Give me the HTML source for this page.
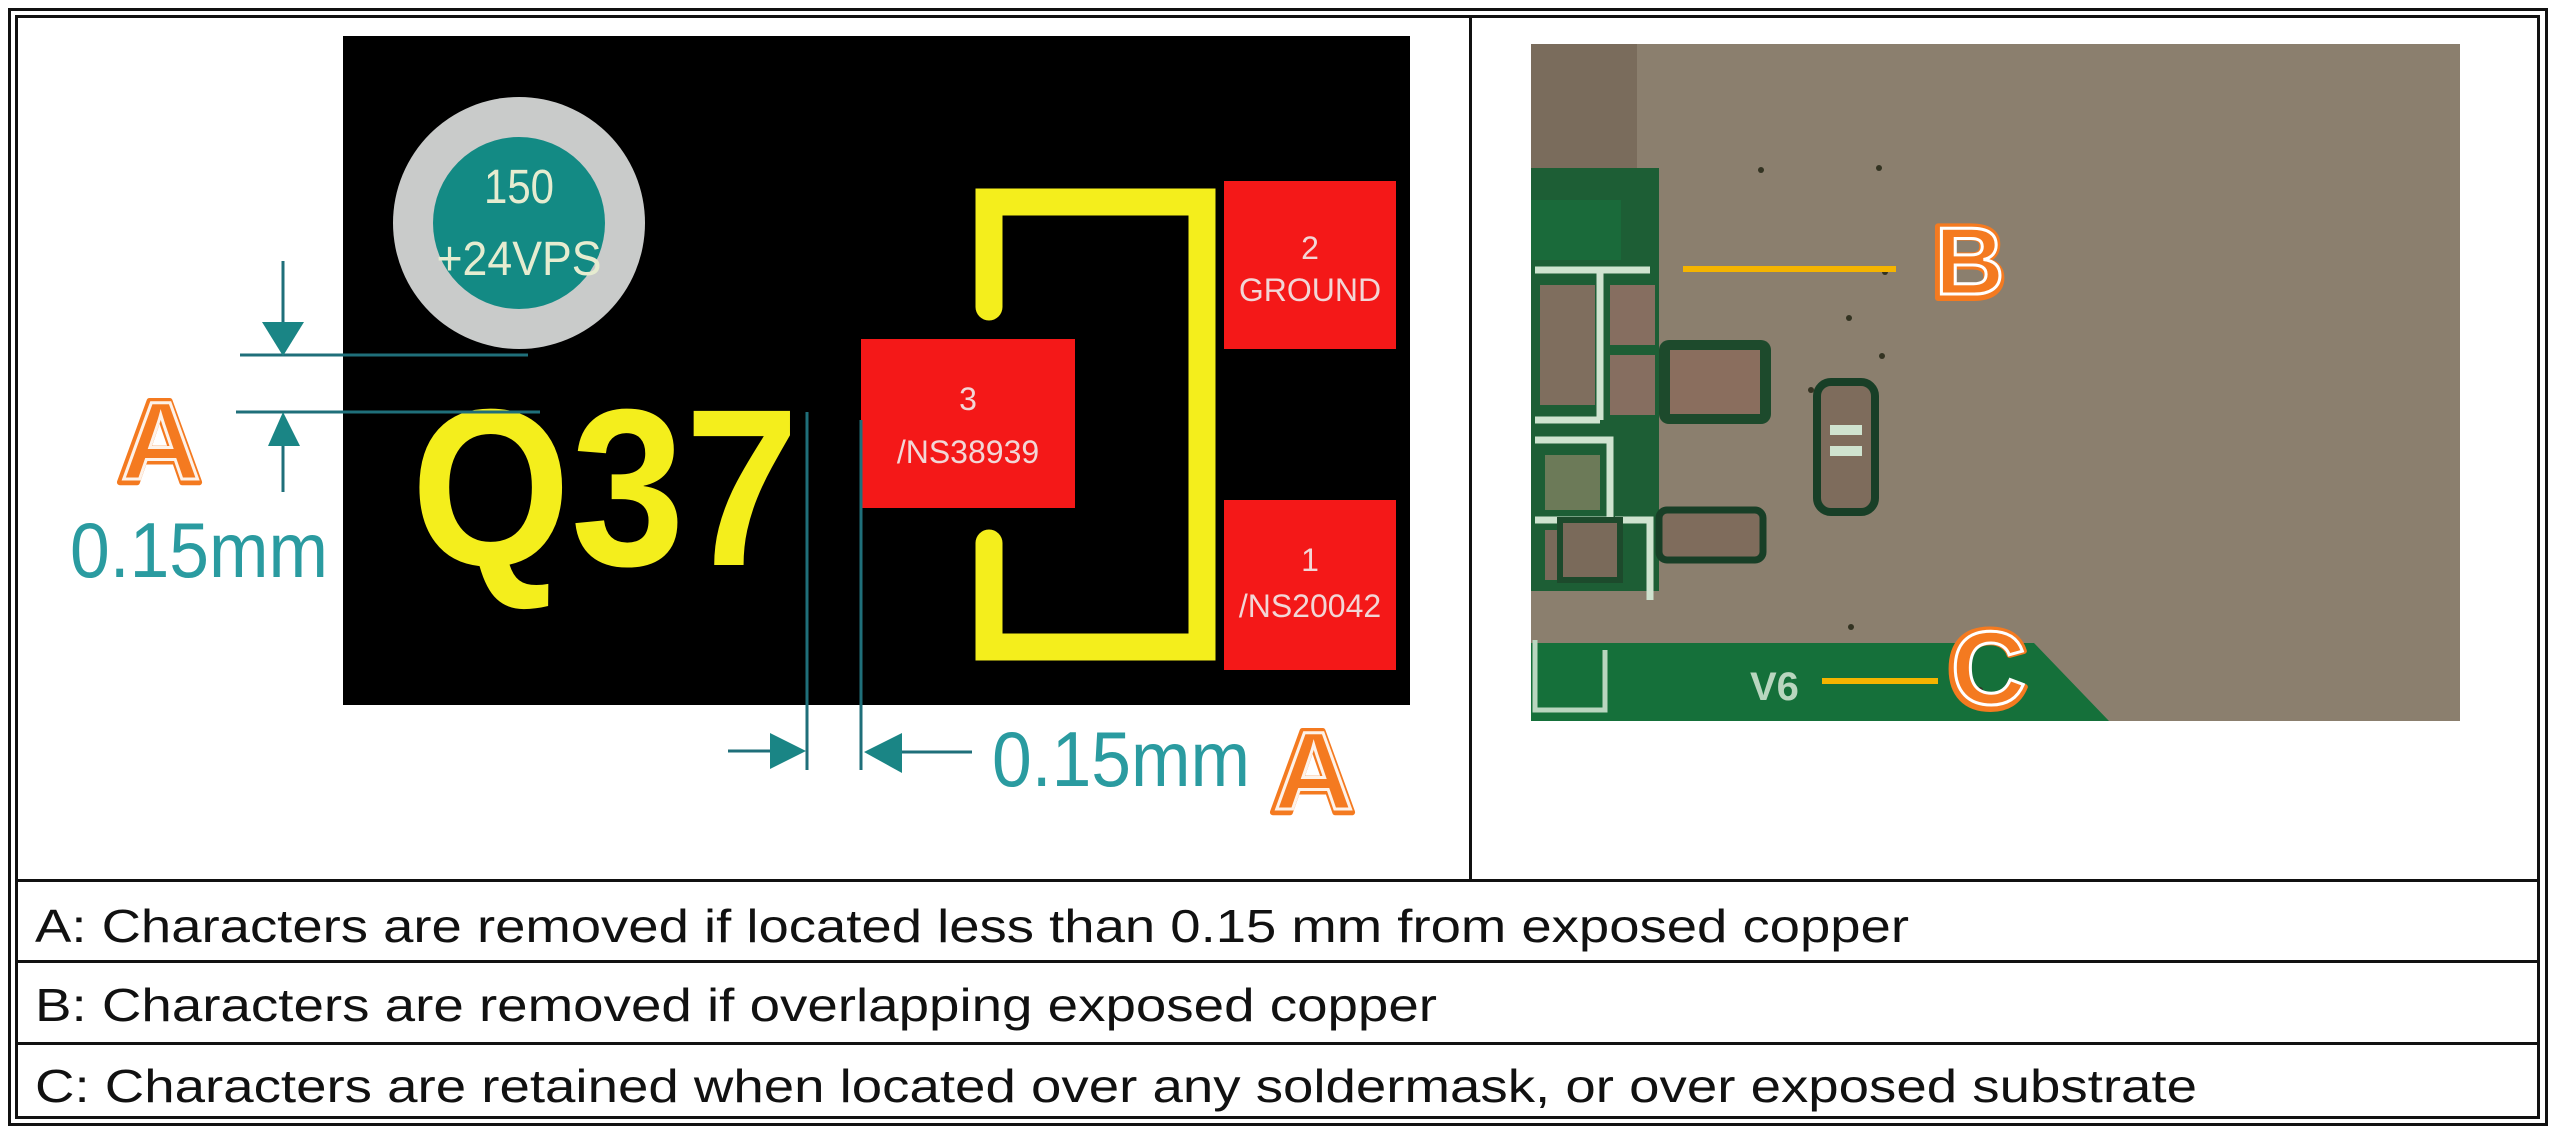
<!DOCTYPE html>
<html><head><meta charset="utf-8"><style>
html,body{margin:0;padding:0;background:#fff;}
svg{display:block;}
text{font-family:"Liberation Sans",sans-serif;}
</style></head><body>
<svg width="2560" height="1139" viewBox="0 0 2560 1139" xmlns="http://www.w3.org/2000/svg">
<rect width="2560" height="1139" fill="#fff"/>
<rect x="9.5" y="9.5" width="2537" height="1115" fill="none" stroke="#111" stroke-width="3"/>
<rect x="16.5" y="16.5" width="2522" height="1101" fill="none" stroke="#111" stroke-width="3"/>
<line x1="1470.5" y1="16" x2="1470.5" y2="880" stroke="#111" stroke-width="3"/>
<line x1="16" y1="880.5" x2="2539" y2="880.5" stroke="#111" stroke-width="3"/>
<line x1="16" y1="961.5" x2="2539" y2="961.5" stroke="#111" stroke-width="3"/>
<line x1="16" y1="1043.5" x2="2539" y2="1043.5" stroke="#111" stroke-width="3"/>
<g font-size="46" fill="#111">
<text x="35" y="942" textLength="1874" lengthAdjust="spacingAndGlyphs">A: Characters are removed if located less than 0.15 mm from exposed copper</text>
<text x="35" y="1021" textLength="1402" lengthAdjust="spacingAndGlyphs">B: Characters are removed if overlapping exposed copper</text>
<text x="35" y="1102" textLength="2162" lengthAdjust="spacingAndGlyphs">C: Characters are retained when located over any soldermask, or over exposed substrate</text>
</g>
<rect x="343" y="36" width="1067" height="669" fill="#000"/>
<circle cx="519" cy="223" r="126" fill="#c9cbca"/>
<circle cx="519" cy="223" r="86" fill="#138a84"/>
<text x="519" y="203" font-size="48" fill="#e6ecd0" text-anchor="middle" textLength="70" lengthAdjust="spacingAndGlyphs">150</text>
<text x="519" y="275" font-size="48" fill="#e6ecd0" text-anchor="middle" textLength="165" lengthAdjust="spacingAndGlyphs">+24VPS</text>
<text x="411" y="565" font-size="224" font-weight="bold" fill="#f4ee1c" textLength="388" lengthAdjust="spacingAndGlyphs">Q37</text>
<g fill="none" stroke="#f4ee1c" stroke-width="27" stroke-linecap="round" stroke-linejoin="miter">
<path d="M989 307 V202 H1202 V647 H989 V543"/>
</g>
<rect x="861" y="339" width="214" height="169" fill="#f41818"/>
<text x="968" y="410" font-size="32" fill="#f2d6d6" text-anchor="middle">3</text>
<text x="968" y="463" font-size="32" fill="#f2d6d6" text-anchor="middle">/NS38939</text>
<rect x="1224" y="181" width="172" height="168" fill="#f41818"/>
<text x="1310" y="259" font-size="32" fill="#f2d6d6" text-anchor="middle">2</text>
<text x="1310" y="301" font-size="32" fill="#f2d6d6" text-anchor="middle">GROUND</text>
<rect x="1224" y="500" width="172" height="170" fill="#f41818"/>
<text x="1310" y="571" font-size="32" fill="#f2d6d6" text-anchor="middle">1</text>
<text x="1310" y="617" font-size="32" fill="#f2d6d6" text-anchor="middle">/NS20042</text>
<g stroke="#1f6f7a" stroke-width="3" fill="none">
<line x1="240" y1="355" x2="528" y2="355"/>
<line x1="236" y1="412" x2="540" y2="412"/>
<line x1="283" y1="261" x2="283" y2="330"/>
<line x1="283" y1="440" x2="283" y2="492"/>
<line x1="807" y1="412" x2="807" y2="770"/>
<line x1="861" y1="420" x2="861" y2="770"/>
<line x1="728" y1="751" x2="775" y2="751"/>
<line x1="895" y1="752" x2="972" y2="752"/>
</g>
<g fill="#1a8585">
<polygon points="262,322 304,322 283,356"/>
<polygon points="268,446 300,446 283,412"/>
<polygon points="770,733 770,769 806,751"/>
<polygon points="902,733 902,773 864,752"/>
</g>
<g font-size="78" fill="#2a9ba0">
<text x="70" y="577" textLength="258" lengthAdjust="spacingAndGlyphs">0.15mm</text>
<text x="992" y="786" textLength="258" lengthAdjust="spacingAndGlyphs">0.15mm</text>
</g>
<g font-size="118" font-weight="bold">
<text x="117" y="482" fill="#f47a20" stroke="#f47a20" stroke-width="6" stroke-linejoin="round">A</text>
<text x="117" y="482" fill="none" stroke="#fff" stroke-width="3" opacity="0.9" font-size="110" dx="4" dy="-3">A</text>
<text x="1270" y="812" fill="#f47a20" stroke="#f47a20" stroke-width="6" stroke-linejoin="round">A</text>
<text x="1270" y="812" fill="none" stroke="#fff" stroke-width="3" opacity="0.9" font-size="110" dx="4" dy="-3">A</text>
</g>
<rect x="1531" y="44" width="929" height="677" fill="#8b7f6e"/>
<rect x="1531" y="44" width="106" height="124" fill="#7a6c5c"/>
<rect x="1531" y="168" width="128" height="423" fill="#1d5e35"/>
<rect x="1531" y="200" width="90" height="60" fill="#1a6a3a"/>
<rect x="1659" y="340" width="112" height="84" fill="#1d4a2c" rx="10"/>
<rect x="1670" y="350" width="90" height="64" fill="#8a6e5e"/>
<rect x="1540" y="285" width="55" height="120" fill="#7f6e5e"/>
<rect x="1610" y="285" width="45" height="60" fill="#866e60"/>
<rect x="1610" y="355" width="45" height="60" fill="#866e60"/>
<g fill="none" stroke="#cfe3cf" stroke-width="7">
<path d="M1535 270 H1650 M1600 270 V420 M1535 420 H1600"/>
<path d="M1535 440 H1610 V520 H1535"/>
<path d="M1615 520 H1650 V600"/>
</g>
<rect x="1545" y="455" width="55" height="55" fill="#6c7a58"/>
<rect x="1545" y="530" width="55" height="50" fill="#7a6a5a"/>
<rect x="1560" y="520" width="60" height="60" fill="#7a6a5a" stroke="#1d4a2c" stroke-width="6"/>
<rect x="1659" y="510" width="104" height="50" fill="#7f6c5c" stroke="#183f27" stroke-width="7" rx="8"/>
<rect x="1817" y="382" width="58" height="130" fill="#7e6c5c" stroke="#183f27" stroke-width="8" rx="14"/>
<rect x="1830" y="425" width="32" height="10" fill="#cfe3cf"/>
<rect x="1830" y="446" width="32" height="10" fill="#cfe3cf"/>
<polygon points="1531,643 2034,643 2109,721 1531,721" fill="#15703a"/>
<path d="M1535 640 V710 H1605 V650" fill="none" stroke="#b9d6bf" stroke-width="5"/>
<text x="1750" y="700" font-size="40" font-weight="bold" fill="#b9d6bf">V6</text>
<g fill="#332">
<circle cx="1761" cy="170" r="3"/><circle cx="1879" cy="168" r="3"/><circle cx="1885" cy="272" r="3"/>
<circle cx="1849" cy="318" r="3"/><circle cx="1811" cy="390" r="3"/><circle cx="1882" cy="356" r="3"/>
<circle cx="1980" cy="690" r="3"/><circle cx="1851" cy="627" r="3"/>
</g>
<line x1="1683" y1="269" x2="1896" y2="269" stroke="#f5b400" stroke-width="6"/>
<line x1="1822" y1="681" x2="1938" y2="681" stroke="#f5b400" stroke-width="6"/>
<g font-size="104" font-weight="bold">
<text x="1931" y="298" fill="#f47a20" stroke="#f47a20" stroke-width="6" stroke-linejoin="round">B</text>
<text x="1935" y="294" fill="none" stroke="#fff" stroke-width="3" font-size="96">B</text>
<text x="1947" y="708" fill="#f47a20" stroke="#f47a20" stroke-width="6" stroke-linejoin="round" font-size="112">C</text>
<text x="1951" y="704" fill="none" stroke="#fff" stroke-width="3" font-size="104">C</text>
</g>
</svg>
</body></html>
